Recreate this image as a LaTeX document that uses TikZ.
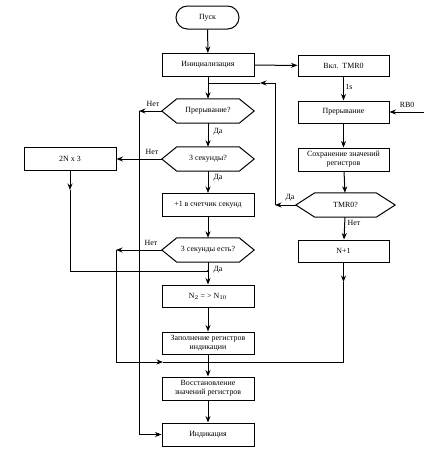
\documentclass[tikz,border=0pt]{standalone}
\usepackage{fontspec}
\setmainfont{Liberation Serif}
\usetikzlibrary{arrows.meta,calc}
\newcommand\hexdraw[2]{\draw[ln] (#1.west) -- ($(#1.north west)+(#2,0)$) -- ($(#1.north east)+(-#2,0)$) -- (#1.east) -- ($(#1.south east)+(-#2,0)$) -- ($(#1.south west)+(#2,0)$) -- cycle;}
\tikzset{
  txt/.style={font=\fontsize{7.9}{8.9}\selectfont},
  box/.style={txt, draw, line width=1pt, minimum width=92pt, minimum height=23pt, inner sep=1pt, align=center},
  hexa/.style={txt, minimum width=92pt, minimum height=24pt, inner sep=0pt, align=center},
  arr/.style={-{Stealth[length=6.5pt,width=5pt]}, line width=1pt},
  ln/.style={line width=1pt},
  lbl/.style={txt, inner sep=0pt}
}
\begin{document}
\begin{tikzpicture}[x=1pt,y=-1pt]
\useasboundingbox[fill=white] (0,0) rectangle (426,455);
% main column
\node[box, minimum width=63pt, rounded corners=11.5pt] (start) at (207.5,17.5) {Пуск};
\node[box] (init) at (208,65) {Инициализация};
\node[hexa] (h1) at (208,111) {Прерывание?};
\node[hexa] (h2) at (208,159) {3 секунды?};
\node[box] (inc) at (208,205) {+1 в счетчик секунд};
\node[hexa] (h3) at (208,250) {3 секунды есть?};
\node[box, minimum height=22pt] (conv) at (208,296) {N$_2$ = > N$_{10}$};
\node[box, minimum height=22pt] (fill) at (208,343) {Заполнение регистров\\индикации};
\node[box] (rest) at (208,388.5) {Восстановление\\значений регистров};
\node[box] (ind) at (208,434.5) {Индикация};
% left
\node[box] (b2n) at (70,159) {2N x 3};
% right column
\node[box, minimum width=91pt, minimum height=21pt] (tmr) at (343.5,65.5) {Вкл.\ \ TMR0};
\node[box, minimum width=91pt, minimum height=22pt] (intr) at (343.5,112) {Прерывание};
\node[box, minimum width=91pt] (save) at (343.5,159.5) {Сохранение значений\\регистров};
\node[hexa, minimum width=99pt] (h4) at (345.5,205) {TMR0?};
\node[box, minimum width=91pt, minimum height=22pt] (np1) at (343.5,251) {N+1};
\hexdraw{h1}{15}
\hexdraw{h2}{15}
\hexdraw{h3}{15}
\hexdraw{h4}{19}
% coordinates
\coordinate (j1) at (208,83);
\coordinate (j2) at (208,271);
\coordinate (j3) at (208,362);
\coordinate (c1) at (275,205);
\coordinate (c2) at (275,83);
\coordinate (c3) at (260,83);
\coordinate (n1) at (139,111);
\coordinate (n2) at (139,434.5);
\coordinate (k1) at (70,190);
\coordinate (k2) at (70,271);
\coordinate (m1) at (116,250);
\coordinate (m2) at (116,362);
\coordinate (m3) at (163,362);
\coordinate (p1) at (343.5,282);
\coordinate (p2) at (343.5,362);
\coordinate (rb) at (424,112);
% main flow
\draw[arr] (start) -- (init);
\draw[arr] (init) -- (h1);
\draw[arr] (h1) -- (h2);
\draw[arr] (h2) -- (inc);
\draw[arr] (inc) -- (h3);
\draw[arr] (h3) -- (conv);
\draw[arr] (conv) -- (fill);
\draw[arr] (fill) -- (rest);
\draw[arr] (rest) -- (ind);
% right flow
\draw[arr] (init) -- (tmr);
\draw[arr] (tmr) -- (intr);
\draw[arr] (rb) -- (intr);
\draw[arr] (intr) -- (save);
\draw[arr] (save) -- (h4);
\draw[arr] (h4) -- (np1);
% loops
\draw[arr] (h4.west) -- (c1);
\draw[arr] (c1) -- (c2) -- (c3);
\draw[ln] (c3) -- (j1);
\draw[arr] (h1.west) -- (n1);
\draw[ln] (n1) -- (n2);
\draw[arr] (n2) -- (ind);
\draw[arr] (h2.west) -- (b2n);
\draw[arr] (b2n) -- (k1);
\draw[ln] (k1) -- (k2) -- (j2);
\draw[arr] (h3.west) -- (m1);
\draw[arr] (m1) -- (m2) -- (m3);
\draw[ln] (m3) -- (j3);
\draw[arr] (np1) -- (p1);
\draw[ln] (p1) -- (p2) -- (j3);
\fill (j2) circle (1.1pt);
% labels
\node[lbl] (l1) at (153,104) {Нет};
\node[lbl] (l2) at (218,132) {Да};
\node[lbl] (l3) at (152,152) {Нет};
\node[lbl] (l4) at (218,178) {Да};
\node[lbl] (l5) at (151,243) {Нет};
\node[lbl] (l6) at (218,270) {Да};
\node[lbl] (l7) at (349,87) {1s};
\node[lbl] (l8) at (407,105) {RB0};
\node[lbl] (l9) at (290,198) {Да};
\node[lbl] (l10) at (354,223) {Нет};
\end{tikzpicture}
\end{document}
